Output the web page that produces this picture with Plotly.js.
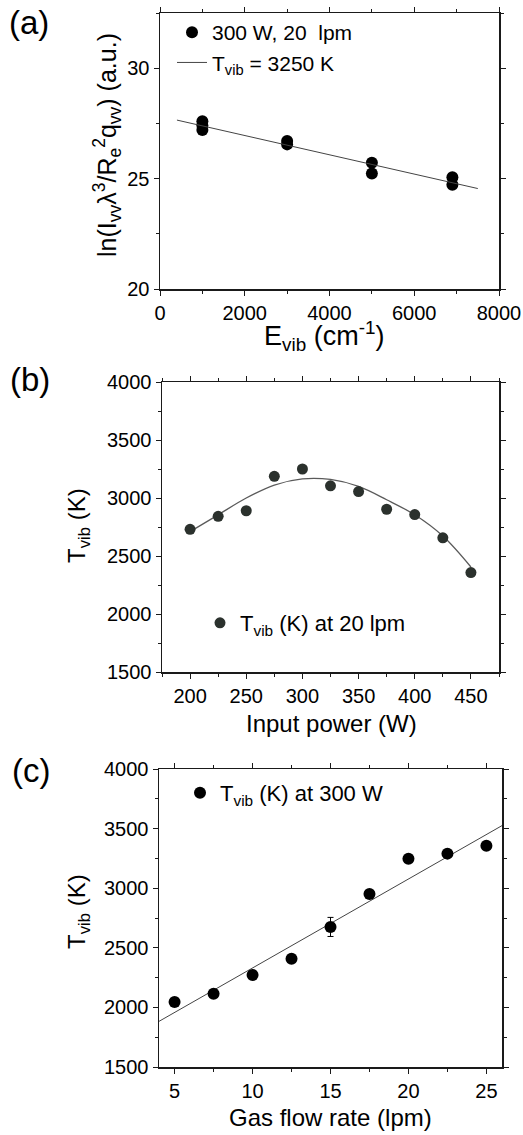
<!DOCTYPE html>
<html>
<head>
<meta charset="utf-8">
<script src="https://cdn.plot.ly/plotly-3.0.1.min.js"></script>
<style>
  html, body { margin: 0; padding: 0; background: #fff; }
  #chart { width: 523px; height: 1135px; }
</style>
</head>
<body>
<div id="chart"></div>
<script>
// (a) Boltzmann plot: ln(I λ^3 / R_e^2 q) versus vibrational energy
const vibEnergy = [1000, 1000, 1000, 3000, 3000, 5000, 5000, 6900, 6900];
const lnIntensity = [27.6, 27.4, 27.2, 26.7, 26.55, 25.72, 25.23, 25.06, 24.72];
const fitEnergy = [400, 7500];
const fitLnIntensity = [27.65, 24.55];

// (b) vibrational temperature versus input power at 20 lpm
const inputPower = [200, 225, 250, 275, 300, 325, 350, 375, 400, 425, 450];
const tvibPower = [2730, 2842, 2890, 3187, 3250, 3105, 3055, 2903, 2857, 2657, 2357];
const tvibPowerFit = [2710, 2855, 3000, 3112, 3165, 3160, 3100, 2985, 2855, 2672, 2405];

// (c) vibrational temperature versus gas flow rate at 300 W
const flowRate = [5, 7.5, 10, 12.5, 15, 17.5, 20, 22.5, 25];
const tvibFlow = [2045, 2115, 2272, 2409, 2675, 2951, 3248, 3290, 3357];
const tvibFlowErr = [0, 0, 0, 0, 80, 0, 0, 0, 0];
const fitFlow = [4, 26];
const fitTvibFlow = [1883, 3525];

const W = 523, H = 1135;
const FONT = 'Liberation Sans, Arial, Helvetica, sans-serif';
const px = v => v / W;          // horizontal pixel -> paper
const py = v => 1 - v / H;      // vertical pixel -> paper

const traces = [
  {
    x: vibEnergy, y: lnIntensity, xaxis: 'x', yaxis: 'y',
    type: 'scatter', mode: 'markers', name: '300 W, 20  lpm',
    marker: { color: '#000', size: 12 }, legend: 'legend'
  },
  {
    x: fitEnergy, y: fitLnIntensity, xaxis: 'x', yaxis: 'y',
    type: 'scatter', mode: 'lines', name: 'T<sub>vib</sub> = 3250 K',
    line: { color: '#444', width: 1 }, legend: 'legend'
  },
  {
    x: inputPower, y: tvibPowerFit, xaxis: 'x2', yaxis: 'y2',
    type: 'scatter', mode: 'lines', showlegend: false,
    line: { color: '#5a5a5a', width: 1.3, shape: 'spline', smoothing: 1 }
  },
  {
    x: inputPower, y: tvibPower, xaxis: 'x2', yaxis: 'y2',
    type: 'scatter', mode: 'markers', name: 'T<sub>vib</sub> (K) at 20 lpm',
    marker: { color: '#2b312d', size: 11 }, legend: 'legend2'
  },
  {
    x: fitFlow, y: fitTvibFlow, xaxis: 'x3', yaxis: 'y3',
    type: 'scatter', mode: 'lines', showlegend: false,
    line: { color: '#444', width: 1 }
  },
  {
    x: flowRate, y: tvibFlow, xaxis: 'x3', yaxis: 'y3',
    type: 'scatter', mode: 'markers', name: 'T<sub>vib</sub> (K) at 300 W',
    marker: { color: '#000', size: 12 },
    error_y: { type: 'data', array: tvibFlowErr, visible: true, color: '#000', thickness: 1, width: 3 },
    legend: 'legend3'
  }
];

function axis(extra) {
  return Object.assign({
    showgrid: false, zeroline: false,
    showline: true, linecolor: '#1a1a1a', linewidth: 1.5,
    mirror: 'allticks', ticks: 'outside', ticklen: 5, tickwidth: 1, tickcolor: '#1a1a1a',
    tickfont: { family: FONT, size: 20, color: '#000' },
    fixedrange: true
  }, extra);
}

function minorTicks(step) {
  return { ticks: 'outside', ticklen: 3, tickwidth: 1, dtick: step, tickcolor: '#1a1a1a' };
}

function legendAt(xPx, yPx, anchor, size) {
  return {
    x: px(xPx), y: py(yPx), xanchor: 'left', yanchor: anchor,
    bgcolor: 'rgba(0,0,0,0)', borderwidth: 0,
    font: { family: FONT, size: size, color: '#000' },
    tracegroupgap: 0
  };
}

function label(text, xPx, yPx, size, angle) {
  return {
    text: text, xref: 'paper', yref: 'paper', x: px(xPx), y: py(yPx),
    xanchor: 'center', yanchor: 'middle', showarrow: false, textangle: angle || 0,
    font: { family: FONT, size: size, color: '#000' }
  };
}

const layout = {
  width: W, height: H,
  margin: { l: 0, r: 0, t: 0, b: 0 },
  paper_bgcolor: '#fff', plot_bgcolor: '#fff',
  font: { family: FONT, color: '#000' },
  xaxis: axis({ domain: [px(160), px(499)], anchor: 'y', range: [0, 8000], dtick: 2000, tick0: 0, minor: minorTicks(1000) }),
  yaxis: axis({ domain: [py(289), py(13)], anchor: 'x', range: [20, 32.5], dtick: 5, tick0: 20, minor: minorTicks(2.5) }),
  xaxis2: axis({ domain: [px(162), px(499)], anchor: 'y2', range: [175, 475], dtick: 50, tick0: 200, minor: minorTicks(25) }),
  yaxis2: axis({ domain: [py(672), py(382)], anchor: 'x2', range: [1500, 4000], dtick: 500, tick0: 1500, minor: minorTicks(250) }),
  xaxis3: axis({ domain: [px(159), px(502)], anchor: 'y3', range: [4, 26], dtick: 5, tick0: 0, minor: minorTicks(2.5) }),
  yaxis3: axis({ domain: [py(1067), py(769)], anchor: 'x3', range: [1500, 4000], dtick: 500, tick0: 1500, minor: minorTicks(250) }),
  legend: legendAt(172, 12, 'top', 21),
  legend2: legendAt(200, 623, 'middle', 22),
  legend3: legendAt(180, 793, 'middle', 22),
  annotations: [
    label('(a)', 29, 23, 33),
    label('(b)', 30, 380, 33),
    label('(c)', 31, 770, 33),
    label('ln(I<sub>vv</sub>λ<sup>3</sup>/R<sub>e</sub><sup>2</sup>q<sub>vv</sub>) (a.u.)', 107, 145, 25, -90),
    label('E<sub>vib</sub> (cm<sup>-1</sup>)', 324, 336, 27),
    label('T<sub>vib</sub> (K)', 78, 526, 24, -90),
    label('Input power (W)', 331, 723, 24),
    label('T<sub>vib</sub> (K)', 78, 912, 24, -90),
    label('Gas flow rate (lpm)', 330, 1117, 24)
  ],
  showlegend: true
};

Plotly.newPlot('chart', traces, layout, { staticPlot: true, displayModeBar: false });
</script>
</body>
</html>
